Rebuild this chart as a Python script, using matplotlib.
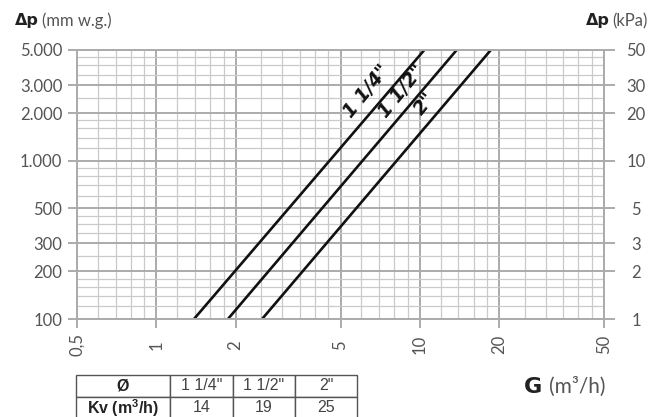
import matplotlib
matplotlib.use('Agg')
import matplotlib.pyplot as plt
from matplotlib.ticker import NullLocator

plt.rcParams['mathtext.fontset'] = 'custom'
plt.rcParams['mathtext.rm'] = 'Liberation Sans'
plt.rcParams['mathtext.bf'] = 'Liberation Sans:bold'

# Pipe sizes and their Kv values (table under the chart)
sizes = ['1 1/4"', '1 1/2"', '2"']
kv = [14, 19, 25]

# Each line runs from 100 to 5000 mm w.g.; flow rates read at both ends
dp_ends = [100, 5000]
g_low = [1.39, 1.87, 2.52]
g_high = [10.4, 13.8, 18.6]

# Axis ticks / grid
x_major = [0.5, 1, 2, 5, 10, 20, 50]
x_major_labels = ['0,5', '1', '2', '5', '10', '20', '50']
x_minor = [0.6, 0.7, 0.8, 0.9, 1.2, 1.4, 1.6, 1.8, 2.5, 3, 3.5, 4, 4.5,
           6, 7, 8, 9, 12, 14, 16, 18, 25, 30, 35, 40, 45]
y_major = [100, 200, 300, 500, 1000, 2000, 3000, 5000]
y_major_labels = ['100', '200', '300', '500', '1.000', '2.000', '3.000', '5.000']
y_minor = [120, 140, 160, 180, 250, 350, 400, 450, 600, 700, 800, 900,
           1200, 1400, 1600, 1800, 2500, 3500, 4000, 4500]
kpa_major = [1, 2, 3, 5, 10, 20, 30, 50]
kpa_labels = ['1', '2', '3', '5', '10', '20', '30', '50']

W, H = 662, 417
label_font = 'Lato'
grey_major = '#ababab'
grey_minor = '#cacaca'
text_grey = '#555555'

fig = plt.figure(figsize=(W / 100, H / 100), dpi=100)
ax = fig.add_axes([77 / W, 1 - 319 / H, (604 - 77) / W, (319 - 50) / H])
ax.set_xscale('log')
ax.set_yscale('log')
ax.set_xlim(0.5, 50)
ax.set_ylim(100, 5000)

ax.set_xticks(x_major)
ax.set_xticks(x_minor, minor=True)
ax.set_xticklabels(x_major_labels)
ax.set_yticks(y_major)
ax.set_yticks(y_minor, minor=True)
ax.set_yticklabels(y_major_labels)
ax.set_xticklabels([], minor=True)
ax.set_yticklabels([], minor=True)

ax.grid(which='major', color=grey_major, linewidth=1.4)
ax.grid(which='minor', color=grey_minor, linewidth=0.9)
ax.set_axisbelow(True)
for s in ax.spines.values():
    s.set_color(grey_major)
    s.set_linewidth(1.4)

ax.tick_params(which='major', length=6.5, width=1.4, color=grey_major,
               labelcolor=text_grey, labelsize=12)
ax.tick_params(which='minor', length=0)
ax.tick_params(axis='y', pad=4)
ax.tick_params(axis='x', pad=12)
for lbl in ax.get_xticklabels() + ax.get_yticklabels():
    lbl.set_fontfamily(label_font)
for lbl in ax.get_xticklabels():
    lbl.set_rotation(90)
    lbl.set_va('center')

# right hand kPa scale
ax2 = ax.twinx()
ax2.set_yscale('log')
ax2.set_ylim(1, 50)
ax2.set_yticks(kpa_major)
ax2.set_yticklabels(kpa_labels)
ax2.yaxis.set_minor_locator(NullLocator())
for s in ax2.spines.values():
    s.set_visible(False)
ax2.tick_params(axis='y', length=8, width=1.4, color=grey_major,
                labelcolor=text_grey, labelsize=12, pad=15)
for lbl in ax2.get_yticklabels():
    lbl.set_fontfamily(label_font)
    lbl.set_ha('center')

# pressure drop lines
for lo, hi in zip(g_low, g_high):
    ax.plot([lo, hi], dp_ends, color='#111111', linewidth=1.9, solid_capstyle='butt')

lab_kw = dict(rotation=51, ha='center', va='center', fontsize=13.5,
              fontweight='bold', fontstyle='italic', color='#111111',
              family='Liberation Sans Narrow')
ax.text(6.3, 2734, sizes[0], **lab_kw)
ax.text(8.5, 2734, sizes[1], **lab_kw)
ax.text(10.46, 2296, sizes[2], **lab_kw)

# axis titles
fig.text(15 / W, 1 - 21 / H, 'Δp', fontsize=11.5, fontweight='bold', color='#222222', va='center')
fig.text(42 / W, 1 - 21 / H, '(mm w.g.)', fontsize=12, fontfamily=label_font,
         color=text_grey, va='center')
fig.text(610 / W, 1 - 21 / H, 'Δp', fontsize=11.5, fontweight='bold', color='#222222',
         va='center', ha='right')
fig.text(648 / W, 1 - 21 / H, '(kPa)', fontsize=12, fontfamily=label_font,
         color=text_grey, va='center', ha='right')
fig.text(524 / W, 1 - 387 / H, 'G', fontsize=16, fontweight='bold', color='#222222', va='center')
fig.text(549 / W, 1 - 387 / H, '(m³/h)', fontsize=15, fontfamily=label_font,
         color=text_grey, va='center')

# Kv table
tax = fig.add_axes([76 / W, -2 / H, (357 - 76) / W, 44 / H])
tax.axis('off')
cells = [['Ø'] + sizes, [r'Kv (m$^\mathbf{3}$/h)'] + [str(k) for k in kv]]
tbl = tax.table(cellText=cells, bbox=[0, 0, 1, 1], cellLoc='center',
                colWidths=[94, 63, 62, 62])
tbl.auto_set_font_size(False)
for (r, c), cell in tbl.get_celld().items():
    cell.set_edgecolor('#555555')
    cell.set_linewidth(1.0)
    t = cell.get_text()
    t.set_fontfamily('Liberation Sans')
    t.set_fontsize(11.5)
    if c == 0:
        t.set_fontweight('bold')
        t.set_color('#222222')
    else:
        t.set_color('#444444')

fig.savefig('out.png', dpi=100)
